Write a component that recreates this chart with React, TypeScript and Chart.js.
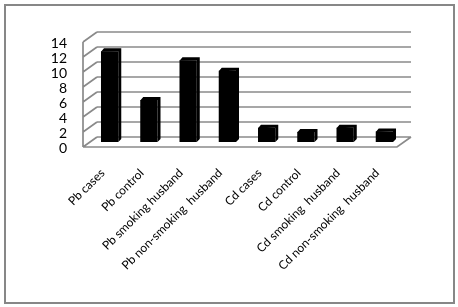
import React, { useEffect, useRef } from "react";
import { Chart, registerables } from "chart.js";

Chart.register(...registerables);

const categories = [
  "Pb cases",
  "Pb control",
  "Pb smoking husband",
  "Pb non-smoking  husband",
  "Cd cases",
  "Cd control",
  "Cd smoking  husband",
  "Cd non-smoking  husband",
];
const values = [12.1, 5.6, 10.9, 9.5, 1.9, 1.35, 1.9, 1.4];
const yMin = 0;
const yMax = 14;
const yStep = 2;

const HX = 7; // half depth offset x
const HY = 5; // half depth offset y
const BAR_D = 3;

const wallPlugin = {
  id: "wall3d",
  beforeDatasetsDraw(chart: any) {
    const { ctx, chartArea } = chart;
    const y = chart.scales.y;
    const L = chartArea.left;
    const R = chartArea.right;
    const B = y.getPixelForValue(0);
    const T = y.getPixelForValue(yMax);
    ctx.save();
    ctx.strokeStyle = "#8a8a8a";
    ctx.lineWidth = 1.7;
    ctx.beginPath();
    for (let v = yMin; v <= yMax; v += yStep) {
      const py = y.getPixelForValue(v);
      ctx.moveTo(L + HX, py - HY);
      ctx.lineTo(R + HX, py - HY);
      ctx.moveTo(L - HX, py + HY);
      ctx.lineTo(L + HX, py - HY);
    }
    ctx.moveTo(L - HX, T + HY);
    ctx.lineTo(L - HX, B + HY);
    ctx.moveTo(L - HX, B + HY);
    ctx.lineTo(R - HX, B + HY);
    ctx.lineTo(R + HX, B - HY);
    ctx.stroke();
    ctx.restore();
  },
  afterDatasetsDraw(chart: any) {
    const { ctx } = chart;
    const meta = chart.getDatasetMeta(0);
    ctx.save();
    ctx.fillStyle = "#000";
    meta.data.forEach((bar: any) => {
      const { x, y, base, width } = bar.getProps(["x", "y", "base", "width"], true);
      const l = x - width / 2;
      const r = x + width / 2;
      ctx.beginPath();
      ctx.moveTo(l, y + 0.5);
      ctx.lineTo(l + BAR_D, y - BAR_D);
      ctx.lineTo(r + BAR_D, y - BAR_D);
      ctx.lineTo(r + BAR_D, base - BAR_D);
      ctx.lineTo(r, base);
      ctx.lineTo(r, y);
      ctx.closePath();
      ctx.fill();
    });
    ctx.restore();
  },
};

export default function App() {
  const ref = useRef<HTMLCanvasElement>(null);
  useEffect(() => {
    if (!ref.current) return;
    const chart = new Chart(ref.current, {
      type: "bar",
      data: {
        labels: categories,
        datasets: [
          {
            data: values,
            backgroundColor: "#000",
            borderWidth: 0,
            barPercentage: 0.44,
            categoryPercentage: 1,
          },
        ],
      },
      options: {
        responsive: false,
        animation: false,
        layout: { padding: { top: 37, right: 54, left: 0, bottom: 0 } },
        plugins: {
          legend: { display: false },
          title: { display: false },
          tooltip: { enabled: false },
        },
        scales: {
          x: {
            grid: { display: false, drawTicks: false },
            border: { display: false },
            ticks: {
              autoSkip: false,
              minRotation: 45,
              maxRotation: 45,
              padding: 24,
              labelOffset: -7,
              color: "#000",
              font: { family: "Lato", size: 12 },
            },
            afterFit(scale: any) {
              scale.height = 165;
            },
          },
          y: {
            min: yMin,
            max: yMax,
            grid: { display: false, drawTicks: false },
            border: { display: false },
            ticks: {
              autoSkip: false,
              stepSize: yStep,
              padding: 23,
              labelOffset: 6,
              color: "#000",
              font: { family: "Lato", size: 14 },
            },
            afterFit(scale: any) {
              scale.width = 90;
            },
          },
        },
      },
      plugins: [wallPlugin],
    });
    return () => chart.destroy();
  }, []);
  return (
    <div style={{ position: "absolute", left: 0, top: 0, width: 458, height: 307, background: "#fff" }}>
      <div
        style={{
          position: "absolute",
          left: 4,
          top: 4,
          width: 447,
          height: 296,
          border: "2px solid #878787",
        }}
      />
      <canvas ref={ref} width={458} height={307} style={{ position: "absolute", left: 0, top: 0 }} />
    </div>
  );
}
